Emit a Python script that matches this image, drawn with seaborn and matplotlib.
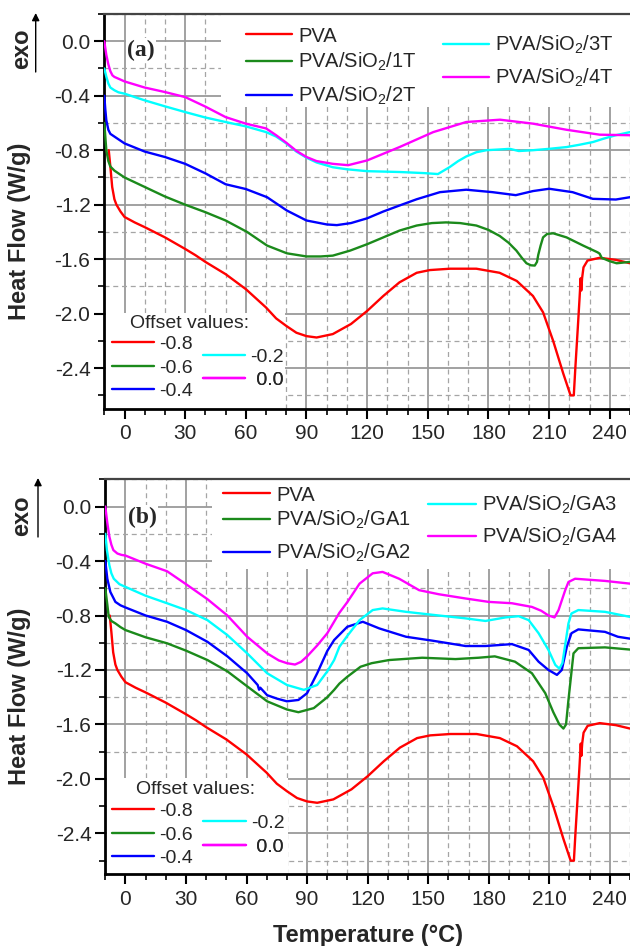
import numpy as np
import matplotlib
matplotlib.use("Agg")
import matplotlib.pyplot as plt
import seaborn as sns
from matplotlib.lines import Line2D
from matplotlib.patches import Rectangle
from matplotlib.ticker import MultipleLocator, FormatStrFormatter

# ---------------- data ----------------
PVA_T = [-7.8, -7.0, -6.1, -5.0, -4.0, -2.0, 0, 5, 10, 20, 30, 35, 40, 50, 60, 70, 75,
         80, 85, 90, 95, 103, 112, 120, 128, 136, 144.5, 151, 161, 174, 185.5, 194, 202,
         207, 212, 217, 220.6, 222.2, 223.0, 224.2, 225.0, 225.6, 225.9, 226.3, 227.0,
         229, 235, 243, 250]
PVA_V = [-0.80, -0.92, -1.07, -1.16, -1.20, -1.25, -1.29, -1.33, -1.365, -1.44, -1.525,
         -1.57, -1.62, -1.71, -1.82, -1.955, -2.035, -2.09, -2.14, -2.165, -2.175, -2.15,
         -2.076, -1.98, -1.87, -1.77, -1.70, -1.68, -1.67, -1.67, -1.70, -1.76, -1.87,
         -1.99, -2.20, -2.44, -2.60, -2.60, -2.39, -2.10, -1.90, -1.74, -1.83, -1.74,
         -1.66, -1.61, -1.59, -1.605, -1.63]

T1_T = [-10, -9.5, -9, -8, -7, -5, -3, 0, 10, 20, 30, 40, 50, 60.6, 70.5, 80.3, 90, 97,
        103, 111.6, 120, 128, 136, 144.5, 152, 159, 166, 174, 180, 185.6, 190, 193.8,
        196.5, 198.8, 201, 202.9, 204, 204.6, 205.8, 207, 209, 212, 218.6, 226.8, 234,
        235, 236, 240, 243.4, 250]
T1_V = [-0.6, -0.7, -0.8, -0.88, -0.92, -0.95, -0.97, -1.0, -1.07, -1.14, -1.2, -1.255,
        -1.316, -1.40, -1.5, -1.557, -1.58, -1.58, -1.574, -1.537, -1.49, -1.44, -1.39,
        -1.353, -1.335, -1.33, -1.335, -1.353, -1.385, -1.43, -1.48, -1.537, -1.59,
        -1.63, -1.645, -1.647, -1.62, -1.57, -1.50, -1.44, -1.415, -1.41, -1.44, -1.50,
        -1.55, -1.56, -1.59, -1.615, -1.63, -1.62]

T2_T = [-10, -9.5, -9, -8, -7, -5, -3, 0, 10, 20, 30, 40, 50, 60, 70.5, 80.3, 90, 100,
        105, 112, 120, 128, 136, 144.5, 156, 169, 182, 193.5, 202, 210, 221.6, 231.6,
        243, 250]
T2_V = [-0.4, -0.5, -0.58, -0.65, -0.68, -0.70, -0.72, -0.75, -0.81, -0.85, -0.90, -0.97,
        -1.05, -1.085, -1.145, -1.243, -1.316, -1.345, -1.35, -1.335, -1.30, -1.25,
        -1.206, -1.16, -1.108, -1.09, -1.108, -1.13, -1.10, -1.083, -1.108, -1.157,
        -1.162, -1.145]

T3_T = [-10, -9, -8, -7, -5, -3, 0, 10, 20, 30, 40, 50, 60, 70, 75, 80, 85, 90, 95, 103,
        110, 120, 136, 148, 155, 160.8, 165, 169, 174, 179, 185, 190.6, 195, 202, 210,
        218.6, 225, 231.7, 237, 243, 250]
T3_V = [-0.2, -0.26, -0.31, -0.34, -0.36, -0.375, -0.385, -0.434, -0.478, -0.52, -0.56,
        -0.593, -0.625, -0.667, -0.70, -0.75, -0.81, -0.855, -0.89, -0.925, -0.94,
        -0.954, -0.96, -0.968, -0.975, -0.924, -0.88, -0.846, -0.815, -0.80, -0.795,
        -0.79, -0.806, -0.80, -0.79, -0.777, -0.76, -0.74, -0.715, -0.69, -0.667]

T4_T = [-10, -9, -8, -7, -6, -5, -3, 0, 10, 20, 30, 40, 50, 60, 70, 75, 80, 85, 90, 95,
        103, 110.6, 120, 136, 152.7, 169, 185.7, 202, 218.6, 235, 250]
T4_V = [0.0, -0.10, -0.17, -0.22, -0.25, -0.262, -0.275, -0.295, -0.34, -0.373, -0.41,
        -0.48, -0.557, -0.605, -0.64, -0.69, -0.745, -0.805, -0.85, -0.88, -0.90, -0.91,
        -0.875, -0.777, -0.667, -0.593, -0.576, -0.605, -0.65, -0.686, -0.69]

GA1_T = [-10, -9, -8.3, -7, -5, -2.5, 0, 10, 20.6, 30, 40.6, 50.5, 60.3, 70.2, 80, 85.7,
         93.3, 100, 103.4, 106, 109.9, 116.5, 122, 130.6, 147, 163.5, 175, 183, 193,
         201.4, 208, 212, 215, 217, 218.3, 219.5, 222, 224.4, 237.6, 250]
GA1_V = [-0.6, -0.72, -0.81, -0.84, -0.858, -0.885, -0.907, -0.96, -1.004, -1.058,
         -1.127, -1.21, -1.32, -1.43, -1.49, -1.51, -1.48, -1.40, -1.346, -1.30, -1.25,
         -1.176, -1.15, -1.127, -1.11, -1.12, -1.11, -1.10, -1.139, -1.224, -1.37, -1.51,
         -1.60, -1.63, -1.60, -1.42, -1.078, -1.04, -1.034, -1.05]

GA2_T = [-10, -9, -7.5, -5, -2.5, 0, 10, 20.6, 30, 40.6, 50.5, 60.3, 65.5, 66.2, 66.8,
         70.2, 75, 80, 85.7, 90, 95, 100, 103.4, 109.9, 117.6, 125.8, 139, 152.2, 168.5,
         178.4, 191.5, 199.8, 204.7, 209.6, 213.8, 216.2, 218.7, 221, 224.4, 237.6, 244,
         250]
GA2_V = [-0.4, -0.53, -0.627, -0.70, -0.725, -0.741, -0.80, -0.846, -0.907, -0.993,
         -1.10, -1.224, -1.31, -1.345, -1.33, -1.385, -1.41, -1.43, -1.42, -1.37, -1.224,
         -1.06, -0.98, -0.883, -0.846, -0.895, -0.956, -0.985, -1.024, -1.024, -1.01,
         -1.053, -1.139, -1.20, -1.236, -1.20, -1.03, -0.93, -0.902, -0.92, -0.956, -0.97]

GA3_T = [-10, -9.2, -8, -7, -5.8, -3, 0, 10, 20.6, 30, 40.6, 50.5, 60.3, 70.2, 80, 88.4,
         95, 100, 103.4, 106, 109.9, 116, 122.5, 127.4, 139, 155.3, 168, 178.4, 188.3,
         194.8, 199.8, 204.7, 209.6, 213, 215, 216.5, 219.5, 221, 224.4, 237.6, 250]
GA3_V = [-0.2, -0.32, -0.43, -0.49, -0.53, -0.57, -0.59, -0.655, -0.71, -0.76, -0.834,
         -0.944, -1.078, -1.224, -1.31, -1.346, -1.31, -1.21, -1.127, -1.03, -0.95,
         -0.834, -0.76, -0.748, -0.773, -0.80, -0.82, -0.84, -0.814, -0.805, -0.834,
         -0.93, -1.053, -1.163, -1.19, -1.15, -0.858, -0.785, -0.76, -0.773, -0.81]

GA4_T = [-10, -9, -8, -7, -6, -4, -2, 0, 10, 20.6, 30, 40.6, 50.5, 60.3, 70.2, 76, 80, 84,
         87, 90, 95, 100, 106, 110, 116, 122.5, 127.4, 135.6, 145.5, 155.3, 168.5, 180,
         191.5, 201.4, 206, 209.6, 212.6, 214.6, 217.9, 219.5, 222.8, 237.6, 250]
GA4_V = [0.0, -0.12, -0.22, -0.28, -0.32, -0.345, -0.355, -0.36, -0.42, -0.475, -0.57,
         -0.68, -0.80, -0.956, -1.078, -1.13, -1.15, -1.16, -1.14, -1.10, -1.02, -0.93,
         -0.78, -0.70, -0.566, -0.49, -0.48, -0.53, -0.614, -0.644, -0.675, -0.70, -0.71,
         -0.737, -0.765, -0.80, -0.814, -0.76, -0.614, -0.554, -0.53, -0.546, -0.566]

COLORS = ["#ff0000", "#1b8a1b", "#0000ff", "#00ffff", "#ff00ff"]
LABELS_A = ["PVA", "PVA/SiO$_2$/1T", "PVA/SiO$_2$/2T", "PVA/SiO$_2$/3T", "PVA/SiO$_2$/4T"]
LABELS_B = ["PVA", "PVA/SiO$_2$/GA1", "PVA/SiO$_2$/GA2", "PVA/SiO$_2$/GA3", "PVA/SiO$_2$/GA4"]
OFFSETS = ["-0.8", "-0.6", "-0.4", "-0.2", " 0.0"]
X_TICKS = [0, 30, 60, 90, 120, 150, 180, 210, 240]
Y_TICKS = [-2.4, -2.0, -1.6, -1.2, -0.8, -0.4, 0.0]

# ---------------- style ----------------
sns.set_style("ticks")
plt.rcParams["font.family"] = ["Liberation Sans", "DejaVu Sans"]
plt.rcParams["axes.unicode_minus"] = False
plt.rcParams["mathtext.fontset"] = "custom"
plt.rcParams["mathtext.rm"] = "Liberation Sans"
plt.rcParams["mathtext.it"] = "Liberation Sans:italic"
plt.rcParams["mathtext.bf"] = "Liberation Sans:bold"

W, H = 630, 946
fig = plt.figure(figsize=(6.3, 9.46), dpi=100)


def fx(x):
    return x / W


def fy(y):
    return 1 - y / H


def setup_axes(left, top, bottom):
    ax = fig.add_axes([fx(left), fy(bottom), fx(W - left), (bottom - top) / H])
    ax.set_xlim(-10, 250)
    ax.set_ylim(-2.7, 0.2)
    ax.set_xticks(X_TICKS)
    ax.set_yticks(Y_TICKS)
    ax.xaxis.set_minor_locator(MultipleLocator(10))
    ax.yaxis.set_minor_locator(MultipleLocator(0.2))
    ax.yaxis.set_major_formatter(FormatStrFormatter("%.1f"))
    ax.set_axisbelow(True)
    ax.grid(which="major", color="#9a9a9a", lw=1.3, ls="-")
    ax.grid(which="minor", color="#a5a5a5", lw=0.9, ls=(0, (4, 3)))
    ax.tick_params(which="major", direction="out", length=7, width=1.5, labelsize=15,
                   color="black", top=False, right=False)
    ax.tick_params(axis="y", which="major", pad=3)
    ax.tick_params(axis="x", which="major", pad=4)
    ax.tick_params(which="minor", direction="out", length=4, width=1.2, color="black",
                   top=False, right=False)
    for s in ("left", "bottom"):
        ax.spines[s].set_color("black")
        ax.spines[s].set_linewidth(2)
    ax.spines["top"].set_color("#444444")
    ax.spines["top"].set_linewidth(1.6)
    ax.spines["right"].set_visible(False)
    ax.set_xlabel("")
    ax.set_ylabel("")
    return ax


def white_box(ax, x0, y0, x1, y1):
    ax.add_patch(Rectangle((fx(x0), fy(y1)), (x1 - x0) / W, (y1 - y0) / H,
                           transform=fig.transFigure, facecolor="white",
                           edgecolor="none", zorder=1))


def entry(ax, color, label, x0, y0, fs, hl, pad):
    h = Line2D([], [], color=color, lw=1.7)
    leg = ax.legend(handles=[h], labels=[label], loc="center left",
                    bbox_to_anchor=(fx(x0), fy(y0)), bbox_transform=fig.transFigure,
                    frameon=False, borderpad=0, borderaxespad=0, handlelength=hl,
                    handletextpad=pad, fontsize=fs)
    ax.add_artist(leg)


def draw_curves(ax, series):
    for (t, v), c in zip(series, COLORS):
        sns.lineplot(x=t, y=v, ax=ax, color=c, lw=1.7, sort=False, estimator=None,
                     legend=False, zorder=3)


# ---------------- panel (a) ----------------
ax_a = setup_axes(104.3, 14, 409)
draw_curves(ax_a, [(PVA_T, PVA_V), (T1_T, T1_V), (T2_T, T2_V), (T3_T, T3_V), (T4_T, T4_V)])
white_box(ax_a, 221, 14, 630, 107)
white_box(ax_a, 106, 313, 285, 409)
for lab, c, (x0, y0) in zip(LABELS_A, COLORS,
                            [(246, 36), (246, 62), (246, 96), (443, 45), (443, 78)]):
    entry(ax_a, c, lab, x0, y0, 14.5, 2.3, 0.3)
fig.text(fx(190), fy(323.3), "Offset values:", ha="center", va="center", fontsize=14)
for lab, c, (x0, y0) in zip(OFFSETS, COLORS,
                            [(111.7, 344.3), (111.7, 367.7), (111.7, 391),
                             (202.7, 356.7), (202.7, 380)]):
    entry(ax_a, c, lab, x0, y0, 14, 2.2, 0.26)
fig.text(fx(141), fy(50), "(a)", ha="center", va="center", fontsize=17,
         fontweight="bold", family="Liberation Serif",
         bbox=dict(facecolor="white", edgecolor="none", pad=1), zorder=4)

# ---------------- panel (b) ----------------
ax_b = setup_axes(105.3, 479.3, 874.3)
draw_curves(ax_b, [(PVA_T, PVA_V), (GA1_T, GA1_V), (GA2_T, GA2_V), (GA3_T, GA3_V),
                   (GA4_T, GA4_V)])
white_box(ax_b, 212, 479.3, 630, 569)
white_box(ax_b, 107, 778, 288, 874.3)
for lab, c, (x0, y0) in zip(LABELS_B, COLORS,
                            [(223, 495), (223, 520), (223, 553.3), (428.3, 505),
                             (428.3, 536.7)]):
    entry(ax_b, c, lab, x0, y0, 14.5, 2.35, 0.3)
fig.text(fx(196), fy(789.3), "Offset values:", ha="center", va="center", fontsize=14)
for lab, c, (x0, y0) in zip(OFFSETS, COLORS,
                            [(111.7, 811), (111.7, 835), (111.7, 858.3),
                             (203, 823.3), (203, 847.3)]):
    entry(ax_b, c, lab, x0, y0, 14, 2.2, 0.26)
fig.text(fx(142), fy(517), "(b)", ha="center", va="center", fontsize=17,
         fontweight="bold", family="Liberation Serif",
         bbox=dict(facecolor="white", edgecolor="none", pad=1), zorder=4)

# ---------------- labels and exo arrows ----------------
for yc in (231.5, 696):
    fig.text(fx(20), fy(yc), "Heat Flow (W/g)", rotation=90, ha="center", va="center",
             fontsize=17, fontweight="bold")
for yc, xa, y_tail, y_head in ((49, 35.7, 72, 13), (516, 38, 537, 478)):
    fig.text(fx(21.5), fy(yc), "exo", rotation=90, ha="center", va="center",
             fontsize=17, fontweight="bold")
    ax_a.annotate("", xy=(fx(xa), fy(y_head)), xytext=(fx(xa), fy(y_tail)),
                  xycoords="figure fraction", textcoords="figure fraction",
                  arrowprops=dict(arrowstyle="-|>", color="black", lw=1.0,
                                  mutation_scale=11, shrinkA=0, shrinkB=0),
                  annotation_clip=False)
fig.text(fx(368), fy(935), "Temperature (°C)", ha="center", va="center", fontsize=17,
         fontweight="bold")

fig.savefig("out.png", dpi=100, facecolor="white")
